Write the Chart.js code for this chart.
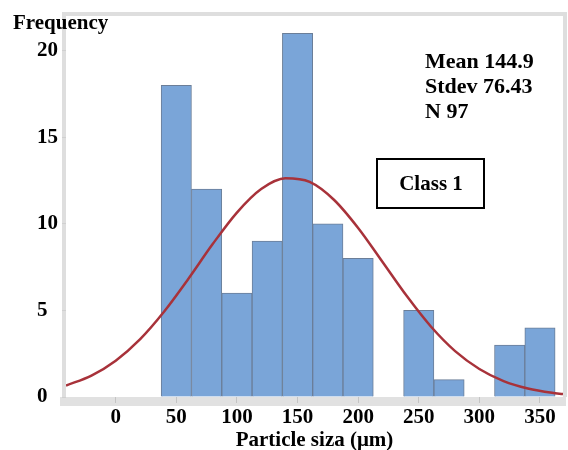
<!DOCTYPE html>
<html>
<head>
<meta charset="utf-8">
<script src="https://cdn.jsdelivr.net/npm/chart.js@4/dist/chart.umd.min.js"></script>
<style>
  html, body { margin: 0; padding: 0; background: #fff; }
  #wrap { width: 568px; height: 450px; }
</style>
</head>
<body>
<div id="wrap"><canvas id="hist"></canvas></div>
<script>
// 25 µm bins: centre of each bin and its count
const binCenters = [50, 75, 100, 125, 150, 175, 200, 225, 250, 275, 300, 325, 350];
const binCounts  = [18, 12, 6, 9, 21, 10, 8, 0, 5, 1, 0, 3, 4];

// fitted normal curve, sampled along the x axis
const curveX = [-41, -20, 0, 20, 40, 60, 80, 100, 120, 140, 160, 180, 200, 220, 240, 260, 280, 300, 320, 340, 360, 369];
const curveY = [0.66, 1.24, 2.10, 3.33, 4.94, 6.83, 8.83, 10.65, 12.01, 12.63, 12.42, 11.39, 9.76, 7.81, 5.84, 4.07, 2.65, 1.62, 0.92, 0.49, 0.24, 0.17];

const xTicks = [0, 50, 100, 150, 200, 250, 300, 350];
const yTicks = [0, 5, 10, 15, 20];

const statLines = ['Mean 144.9', 'Stdev 76.43', 'N 97'];
const groupLabel = 'Class 1';

const SERIF = '"Liberation Serif", "Times New Roman", serif';
const boldFont = size => ({ family: SERIF, size, weight: 'bold' });

// grey plot frame, axis band, and the text annotations
const framePlugin = {
  id: 'frame',
  beforeDraw(chart) {
    const { ctx, chartArea: a } = chart;
    ctx.save();
    ctx.fillStyle = '#e1e1e1';
    ctx.fillRect(a.left - 6, a.bottom, a.right - a.left + 9, 9);
    ctx.strokeStyle = '#dedede';
    ctx.lineWidth = 4;
    ctx.beginPath();
    ctx.moveTo(a.left - 2, a.bottom);
    ctx.lineTo(a.left - 2, a.top - 2);
    ctx.lineTo(a.right + 2, a.top - 2);
    ctx.lineTo(a.right + 2, a.bottom);
    ctx.stroke();
    ctx.restore();
  },
  afterDraw(chart) {
    const ctx = chart.ctx;
    ctx.save();
    ctx.fillStyle = '#000';
    ctx.textBaseline = 'alphabetic';
    ctx.textAlign = 'left';
    ctx.font = 'bold 21px ' + SERIF;
    ctx.fillText('Frequency', 13, 29);

    ctx.font = 'bold 22px ' + SERIF;
    statLines.forEach((t, i) => ctx.fillText(t, 425, 68 + i * 25));

    ctx.strokeStyle = '#000';
    ctx.lineWidth = 2;
    ctx.strokeRect(377, 159, 107, 49);
    ctx.font = 'bold 21px ' + SERIF;
    ctx.textAlign = 'center';
    ctx.fillText(groupLabel, 431, 190);
    ctx.restore();
  }
};

new Chart(document.getElementById('hist'), {
  type: 'bar',
  data: {
    datasets: [
      {
        type: 'line',
        data: curveX.map((x, i) => ({ x, y: curveY[i] })),
        borderColor: '#a8323a',
        borderWidth: 2.5,
        pointRadius: 0,
        tension: 0.4,
        cubicInterpolationMode: 'monotone',
        order: 0
      },
      {
        type: 'bar',
        data: binCenters.map((x, i) => ({ x, y: binCounts[i] || null })),
        backgroundColor: '#7aa5d8',
        borderColor: '#6b7e98',
        borderWidth: 1,
        barPercentage: 1,
        categoryPercentage: 1,
        order: 1
      }
    ]
  },
  options: {
    responsive: true,
    maintainAspectRatio: false,
    animation: false,
    layout: { padding: { left: 37, top: 16, right: 5, bottom: 0 } },
    plugins: { legend: { display: false }, tooltip: { enabled: false } },
    scales: {
      x: {
        type: 'linear',
        min: -41,
        max: 369,
        offset: false,
        afterBuildTicks: s => { s.ticks = xTicks.map(v => ({ value: v })); },
        afterFit: s => { s.height = 53; },
        grid: { offset: false, drawOnChartArea: false, tickLength: 6, color: '#c4c4c4' },
        border: { display: false },
        ticks: { color: '#000', font: boldFont(21), padding: 2, maxRotation: 0 },
        title: { display: true, text: 'Particle siza (μm)', color: '#000', font: boldFont(21), padding: { top: 0, bottom: -3 } }
      },
      y: {
        min: 0,
        max: 22,
        afterBuildTicks: s => { s.ticks = yTicks.map(v => ({ value: v })); },
        afterFit: s => { s.width = 29; },
        grid: { drawOnChartArea: false, tickLength: 4, color: '#d0d0d0' },
        border: { display: false },
        ticks: { color: '#000', font: boldFont(21), crossAlign: 'far', padding: 0 }
      }
    }
  },
  plugins: [framePlugin]
});
</script>
</body>
</html>
